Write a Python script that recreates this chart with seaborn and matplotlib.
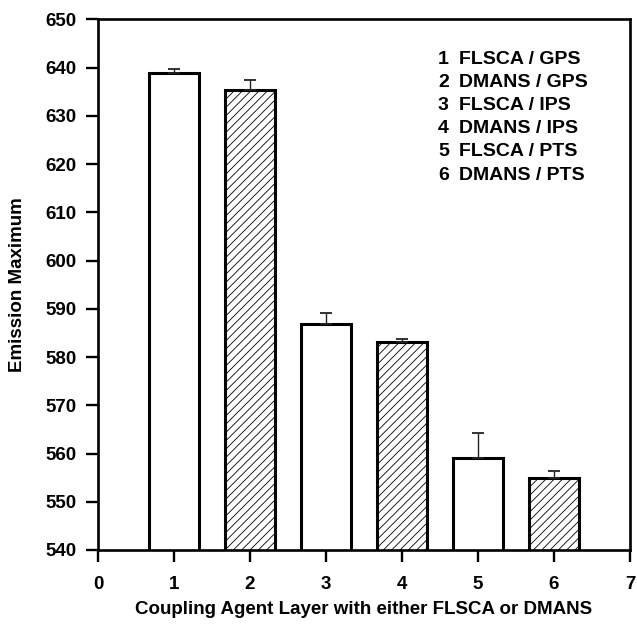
import matplotlib
matplotlib.use("Agg")
import matplotlib.pyplot as plt
import seaborn as sns
import pandas as pd
import numpy as np

# ---- data ----
layers = [1, 2, 3, 4, 5, 6]
emission_max = [638.8, 635.3, 586.8, 583.1, 559.1, 555.0]
err_upper = [0.9, 2.1, 2.3, 0.7, 5.2, 1.3]
dye = ["FLSCA", "DMANS", "FLSCA", "DMANS", "FLSCA", "DMANS"]
legend_labels = ["FLSCA / GPS", "DMANS / GPS", "FLSCA / IPS",
                 "DMANS / IPS", "FLSCA / PTS", "DMANS / PTS"]
xticks = [0, 1, 2, 3, 4, 5, 6, 7]
yticks = [540, 550, 560, 570, 580, 590, 600, 610, 620, 630, 640, 650]

sns.set_theme(style="ticks")
plt.rcParams["font.family"] = ["Liberation Sans", "DejaVu Sans"]
plt.rcParams["font.weight"] = "bold"
plt.rcParams["hatch.linewidth"] = 0.6

df = pd.DataFrame({"layer": layers, "emission": emission_max, "dye": dye})

fig = plt.figure(figsize=(6.37, 6.29), dpi=100)
ax = fig.add_axes([0.1538, 0.1256, 0.989 - 0.1538, 0.9693 - 0.1256])

sns.barplot(data=df, x="layer", y="emission", native_scale=True,
            color="white", edgecolor="black", linewidth=2.2,
            width=0.66, errorbar=None, ax=ax, saturation=1)

for patch, d in zip(ax.patches, dye):
    patch.set_facecolor("white")
    if d == "DMANS":
        patch.set_hatch("////")

ax.errorbar(layers, emission_max,
            yerr=[np.zeros(len(err_upper)), err_upper],
            fmt="none", ecolor="#222222", elinewidth=1.0,
            capsize=4.3, capthick=1.3, zorder=1)

ax.set_xlim(0, 7)
ax.set_ylim(540, 650)
ax.set_xticks(xticks)
ax.set_yticks(yticks)
ax.set_xticklabels([str(t) for t in xticks], fontsize=13.5, fontweight="bold")
ax.set_yticklabels([str(t) for t in yticks], fontsize=13.5, fontweight="bold")

for s in ax.spines.values():
    s.set_linewidth(1.9)
    s.set_color("black")
ax.tick_params(axis="both", direction="out", length=8.5, width=1.7,
               color="black", labelcolor="black")
ax.tick_params(axis="x", pad=10)
ax.tick_params(axis="y", pad=7)

ax.set_xlabel("Coupling Agent Layer with either FLSCA or DMANS",
              fontsize=13.5, fontweight="bold", color="black")
ax.set_ylabel("Emission Maximum", fontsize=13.5, fontweight="bold", color="black")
ax.xaxis.set_label_coords(0.5, -0.096)
ax.yaxis.set_label_coords(-0.135, 0.5)

# in-plot key
for i, lab in enumerate(legend_labels):
    y = 0.925 - i * 0.0437
    ax.text(0.639, y, str(layers[i]), transform=ax.transAxes, fontsize=14,
            fontweight="bold", va="center", ha="left", color="black")
    ax.text(0.678, y, lab, transform=ax.transAxes, fontsize=14,
            fontweight="bold", va="center", ha="left", color="black")

fig.savefig("out.png", dpi=100)
